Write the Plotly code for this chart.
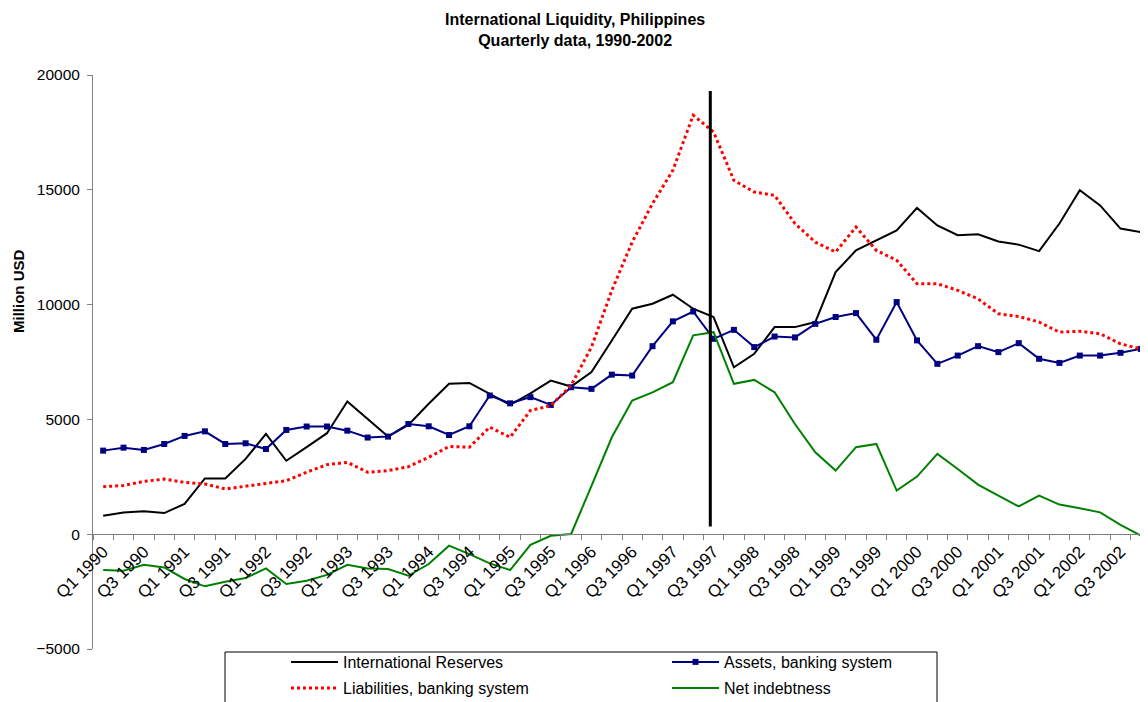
import plotly.graph_objects as go

# quarters Q1 1990 .. Q4 2002
quarters = [f"Q{q} {y}" for y in range(1990, 2003) for q in (1, 2, 3, 4)]

reserves = [800, 950, 1000, 920, 1320, 2430, 2430, 3280, 4370, 3200,
            3790, 4400, 5780, 5010, 4250, 4760, 5680, 6550, 6590, 6110,
            5630, 6130, 6690, 6430, 7060, 8440, 9820, 10040, 10430, 9820,
            9460, 7270, 7860, 9020, 9020, 9240, 11420, 12360, 12800, 13230,
            14210, 13450, 13020, 13060, 12750, 12610, 12330, 13530, 14980, 14320,
            13310, 13160]

assets = [3640, 3770, 3670, 3930, 4280, 4480, 3930, 3960, 3710, 4540,
          4690, 4690, 4510, 4210, 4250, 4800, 4700, 4320, 4700, 6040,
          5700, 5970, 5630, 6400, 6330, 6950, 6910, 8190, 9270, 9700,
          8510, 8900, 8150, 8610, 8570, 9160, 9460, 9630, 8470, 10110,
          8440, 7420, 7780, 8190, 7930, 8320, 7640, 7460, 7780, 7780,
          7900, 8070]

liabilities = [2070, 2120, 2300, 2400, 2260, 2190, 1970, 2090, 2220, 2330,
               2700, 3030, 3130, 2700, 2770, 2940, 3350, 3820, 3790, 4660,
               4220, 5390, 5600, 6480, 8150, 10620, 12720, 14400, 15850, 18250,
               17520, 15410, 14900, 14760, 13530, 12720, 12290, 13380, 12360, 11930,
               10910, 10910, 10620, 10250, 9600, 9480, 9240, 8800, 8840, 8730,
               8290, 8070]

net_debt = [-1560, -1590, -1330, -1450, -1950, -2270, -2070, -1910, -1490, -2170,
            -2030, -1770, -1330, -1490, -1520, -1810, -1300, -500, -870, -1270,
            -1560, -460, -70, 10, 2100, 4220, 5820, 6180, 6620, 8660,
            8800, 6550, 6720, 6180, 4800, 3570, 2770, 3790, 3930, 1900,
            2510, 3500, 2840, 2160, 1680, 1210, 1680, 1290, 1130, 950,
            410, -60]

# vertical marker for the 1997 crisis (category position, value range)
crisis_x = [29.84, 29.84]
crisis_y = [330, 19300]

FONT = "Arial, Liberation Sans, sans-serif"
idx = list(range(len(quarters)))

# plot area in pixels
L, R, T, B = 85, 5, 67, 61
PW, PH = 1148 - L - R, 702 - T - B


def px_x(p):
    return (p - L) / PW


def px_y(p):
    return (702 - B - p) / PH


fig = go.Figure()
fig.add_trace(go.Scatter(x=idx, y=reserves, name="International Reserves", mode="lines",
                         line=dict(color="#000000", width=2), legend="legend"))
fig.add_trace(go.Scatter(x=idx, y=assets, name="Assets, banking system", mode="lines+markers",
                         line=dict(color="#000080", width=2),
                         marker=dict(symbol="square", size=6, color="#000080"), legend="legend"))
fig.add_trace(go.Scatter(x=idx, y=liabilities, name="Liabilities, banking system", mode="lines",
                         line=dict(color="#FF0000", width=3, dash="dot"), legend="legend2"))
fig.add_trace(go.Scatter(x=idx, y=net_debt, name="Net indebtness", mode="lines",
                         line=dict(color="#008000", width=2), legend="legend2"))
fig.add_trace(go.Scatter(x=crisis_x, y=crisis_y, mode="lines", showlegend=False,
                         line=dict(color="#000000", width=3)))

fig.update_layout(
    width=1148, height=702,
    margin=dict(l=L, r=R, t=T, b=B, autoexpand=False),
    paper_bgcolor="white", plot_bgcolor="white",
    font=dict(family=FONT, color="black"),
    title=dict(text="<b>International Liquidity, Philippines<br>Quarterly data, 1990-2002</b>",
               x=0.494, xref="container", xanchor="center", y=1 - 17 / 702, yref="container",
               yanchor="middle", font=dict(size=16)),
    xaxis=dict(range=[-0.5, 51.5], tickmode="array",
               tickvals=idx[::2], ticktext=quarters[::2], tickangle=-45,
               ticks="", showgrid=False, zeroline=False,
               showline=True, linecolor="#808080", linewidth=1,
               anchor="free", position=0.2, automargin=False,
               tickfont=dict(size=17),
               minor=dict(tickmode="linear", tick0=-0.5, dtick=1, ticks="outside",
                          ticklen=5, tickcolor="#808080", showgrid=False)),
    yaxis=dict(range=[-5000, 20000], dtick=5000, tickformat="d",
               showgrid=False, zeroline=False,
               showline=True, linecolor="#808080", linewidth=1,
               ticks="outside", ticklen=5, tickcolor="#808080", ticklabelstandoff=4,
               tickfont=dict(size=15.5), automargin=False),
    legend=dict(orientation="h", x=px_x(278), y=px_y(637), xanchor="left", yanchor="top",
                entrywidth=319, itemwidth=47, font=dict(size=16),
                bgcolor="rgba(0,0,0,0)"),
    legend2=dict(orientation="h", x=px_x(278), y=px_y(663), xanchor="left", yanchor="top",
                 entrywidth=319, itemwidth=47, font=dict(size=16),
                 bgcolor="rgba(0,0,0,0)"),
    shapes=[dict(type="rect", xref="paper", yref="paper",
                 x0=px_x(217), x1=px_x(929), y0=px_y(644), y1=px_y(706),
                 line=dict(color="black", width=1))],
    annotations=[dict(text="<b>Million USD</b>", textangle=-90, xref="paper", yref="paper",
                      x=px_x(10), y=px_y(284), xanchor="center", yanchor="middle",
                      showarrow=False, font=dict(size=15))],
)

fig.write_html("out.html")
